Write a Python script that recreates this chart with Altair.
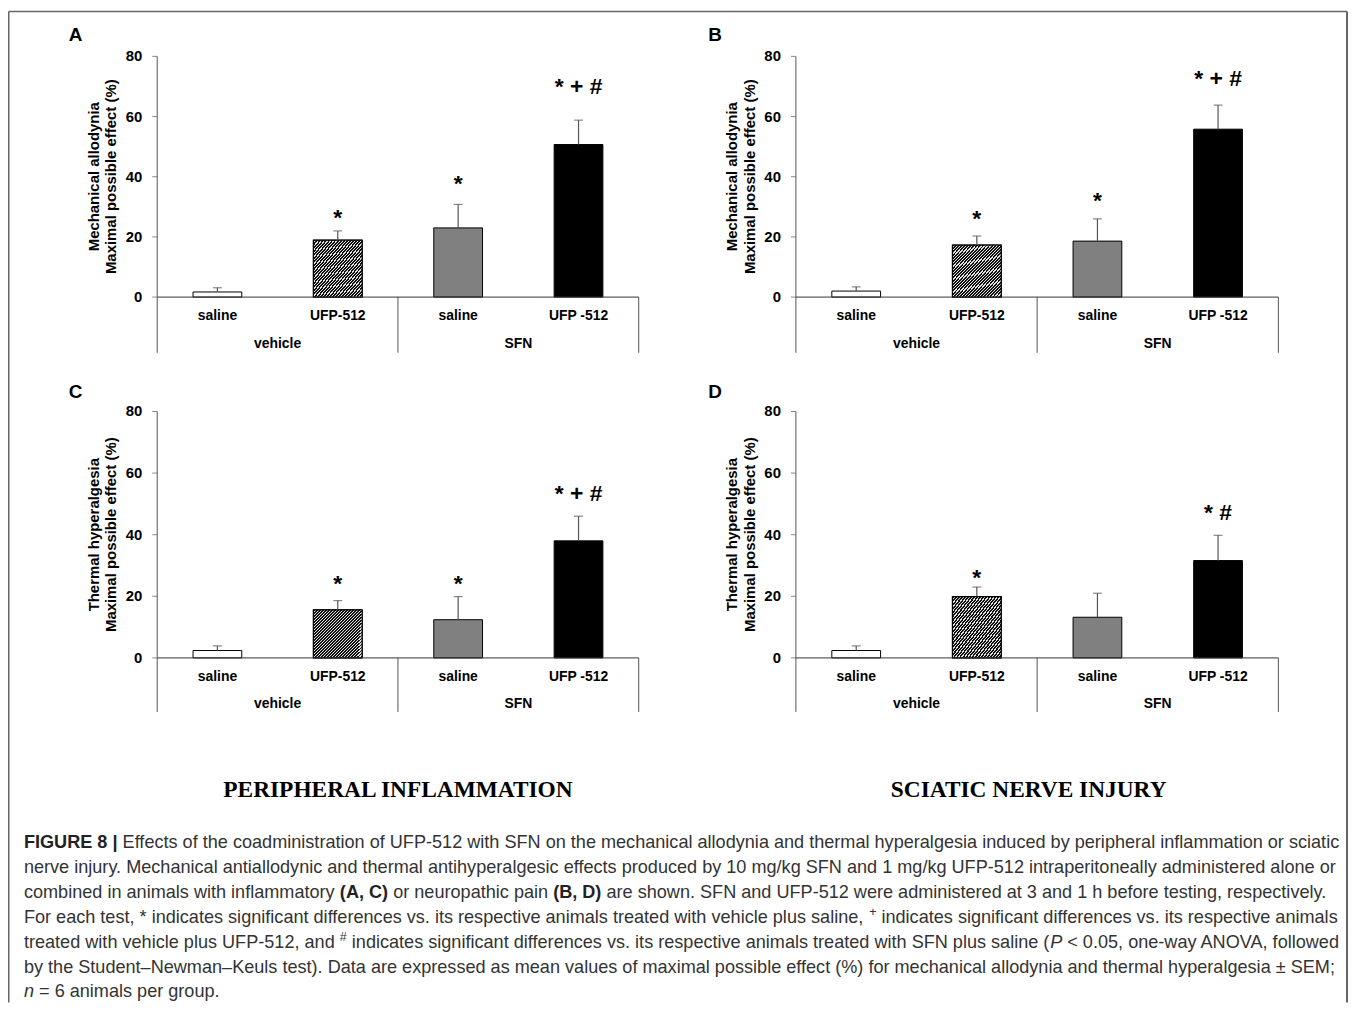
import altair as alt
import pandas as pd

# ---------------- data ----------------
groups = ["saline", "UFP-512", "saline", "UFP -512"]
positions = [0.5, 1.5, 2.5, 3.5]
fill_keys = ["vehicle+saline", "vehicle+UFP-512", "SFN+saline", "SFN+UFP-512"]
treatments = ["vehicle", "SFN"]
treatment_pos = [1, 3]
y_ticks = [0, 20, 40, 60, 80]

# mean maximal possible effect (%) and SEM
mech_infl_mean = [1.7, 18.9, 23.0, 50.7]
mech_infl_sem = [1.4, 3.1, 7.8, 8.1]
mech_neuro_mean = [2.0, 17.3, 18.6, 55.8]
mech_neuro_sem = [1.4, 3.0, 7.4, 8.0]
therm_infl_mean = [2.4, 15.6, 12.4, 38.0]
therm_infl_sem = [1.5, 3.0, 7.5, 8.0]
therm_neuro_mean = [2.4, 19.9, 13.2, 31.6]
therm_neuro_sem = [1.5, 3.1, 7.8, 8.2]

# significance marks and the height (axis units) of their text baseline
sig_A = ["", "*", "*", "* + #"]
sig_A_y = [None, 23.8, 35.1, 67.4]
sig_B = ["", "*", "*", "* + #"]
sig_B_y = [None, 23.5, 29.6, 70.1]
sig_C = ["", "*", "*", "* + #"]
sig_C_y = [None, 21.6, 21.6, 51.1]
sig_D = ["", "*", "", "* #"]
sig_D_y = [None, 23.7, None, 44.9]

FONT = "Liberation Sans"
W, H = 1348, 997
AX = "#555555"

# diagonal hatch as a hard-stop linear gradient
hatch_stops = []
n_str = 32
for i in range(n_str):
    a = i / n_str
    b = (i + 0.6) / n_str
    c = (i + 1) / n_str
    hatch_stops += [alt.GradientStop(offset=a, color="#111111"),
                    alt.GradientStop(offset=b, color="#111111"),
                    alt.GradientStop(offset=b, color="#e0e0e0"),
                    alt.GradientStop(offset=c, color="#e0e0e0")]
hatch = alt.LinearGradient(gradient="linear", stops=hatch_stops, x1=0, y1=0, x2=1, y2=1)


def panel(means, sems, sig, sig_y, title_text, xr, yr, title_x, lab_y, grp_y,
          sep_bottom, letter, letter_x, letter_y):
    df = pd.DataFrame({
        "pos": positions, "group": groups, "fill": fill_keys,
        "mean": means, "top": [m + s for m, s in zip(means, sems)],
        "sig": sig, "sig_y": sig_y,
    })
    xs = alt.Scale(domain=[0, 4], range=xr, nice=False, zero=False)
    ys = alt.Scale(domain=[0, 80], range=yr, nice=False)
    X = alt.X("pos:Q", scale=xs, axis=None)
    base = alt.Chart(df)

    bars = base.mark_bar(size=49, stroke="black", strokeWidth=1).encode(
        x=X,
        y=alt.Y("mean:Q", scale=ys, axis=None),
        fill=alt.Fill("fill:N", scale=alt.Scale(domain=fill_keys,
                      range=["white", "#444444", "#808080", "black"]), legend=None),
    )
    hatched = base.transform_filter(alt.datum.fill == "vehicle+UFP-512").mark_bar(
        size=49, stroke="black", strokeWidth=1.2, fill=hatch
    ).encode(x=X, y=alt.Y("mean:Q", scale=ys, axis=None))
    err = base.mark_rule(color=AX, strokeWidth=1.2).encode(
        x=X, y=alt.Y("mean:Q", scale=ys, axis=None), y2="top:Q")
    cap = base.mark_tick(orient="horizontal", size=9, thickness=1.2, color=AX).encode(
        x=X, y=alt.Y("top:Q", scale=ys, axis=None))
    stars = base.transform_filter(alt.datum.sig != "").mark_text(
        font=FONT, fontSize=23, fontWeight="bold", baseline="alphabetic", color="black"
    ).encode(x=X, y=alt.Y("sig_y:Q", scale=ys, axis=None), text="sig:N")
    cats = base.mark_text(font=FONT, fontSize=14, fontWeight="bold", baseline="middle",
                          color="black").encode(
        x=X, y=alt.value(lab_y), text="group:N")
    grp_df = pd.DataFrame({"pos": treatment_pos, "label": treatments})
    grps = alt.Chart(grp_df).mark_text(font=FONT, fontSize=14, fontWeight="bold",
                                       baseline="middle", color="black").encode(
        x=X, y=alt.value(grp_y), text="label:N")
    sep_df = pd.DataFrame({"pos": [0, 2, 4]})
    seps = alt.Chart(sep_df).mark_rule(color=AX, strokeWidth=1).encode(
        x=X, y=alt.value(yr[0]), y2=alt.value(sep_bottom))
    base_df = pd.DataFrame({"x0": [0], "x1": [4], "y0": [0], "y1": [80]})
    baseline = alt.Chart(base_df).mark_rule(color="#333333", strokeWidth=1).encode(
        x=alt.X("x0:Q", scale=xs, axis=None), x2="x1:Q",
        y=alt.Y("y0:Q", scale=ys, axis=None))
    # y axis drawn from its own small table
    ydomain = alt.Chart(base_df).mark_rule(color=AX, strokeWidth=1).encode(
        x=alt.X("x0:Q", scale=xs, axis=None),
        y=alt.Y("y0:Q", scale=ys, axis=None), y2="y1:Q")
    tick_df = pd.DataFrame({"x0": [0] * len(y_ticks), "v": y_ticks,
                            "lab": [str(v) for v in y_ticks]})
    yticks = alt.Chart(tick_df).mark_tick(orient="horizontal", size=5, thickness=1,
                                          color=AX, xOffset=-2.5).encode(
        x=alt.X("x0:Q", scale=xs, axis=None), y=alt.Y("v:Q", scale=ys, axis=None))
    ylabels = alt.Chart(tick_df).mark_text(font=FONT, fontSize=15, fontWeight="bold",
                                           align="right", baseline="middle", dx=-15,
                                           color="black").encode(
        x=alt.X("x0:Q", scale=xs, axis=None), y=alt.Y("v:Q", scale=ys, axis=None),
        text="lab:N")
    ytitle = alt.Chart(pd.DataFrame({"t": [title_text]})).mark_text(
        font=FONT, fontSize=15, fontWeight="bold", angle=270, lineBreak="\n",
        lineHeight=18, align="center", baseline="middle", color="black").encode(
        x=alt.value(title_x), y=alt.value((yr[0] + yr[1]) / 2), text="t:N")
    let_df = pd.DataFrame({"t": [letter]})
    let = alt.Chart(let_df).mark_text(font=FONT, fontSize=19, fontWeight="bold",
                                      align="left", baseline="alphabetic",
                                      color="black").encode(
        x=alt.value(letter_x), y=alt.value(letter_y), text="t:N")
    return alt.layer(bars, hatched, seps, baseline, ydomain, yticks, ylabels, ytitle,
                     err, cap, stars, cats, grps, let)


mech_title = "Mechanical allodynia\nMaximal possible effect (%)"
therm_title = "Thermal hyperalgesia\nMaximal possible effect (%)"

pA = panel(mech_infl_mean, mech_infl_sem, sig_A, sig_A_y, mech_title,
           [145, 639], [288, 46], 86, 307, 335, 344, "A", 61, 31)
pB = panel(mech_neuro_mean, mech_neuro_sem, sig_B, sig_B_y, mech_title,
           [787, 1282], [288, 46], 728, 307, 335, 344, "B", 704, 31)
pC = panel(therm_infl_mean, therm_infl_sem, sig_C, sig_C_y, therm_title,
           [145, 639], [650.7, 403], 86, 670, 697, 705, "C", 61, 389)
pD = panel(therm_neuro_mean, therm_neuro_sem, sig_D, sig_D_y, therm_title,
           [787, 1282], [650.7, 403], 728, 670, 697, 705, "D", 704, 389)

one = pd.DataFrame({"k": [0]})

# figure frame (left, top, right)
frame = [
    alt.Chart(one).mark_rule(color="#666666", strokeWidth=1.5).encode(
        x=alt.value(0.75), y=alt.value(1), y2=alt.value(H)),
    alt.Chart(one).mark_rule(color="#666666", strokeWidth=1.5).encode(
        x=alt.value(0.75), x2=alt.value(1346), y=alt.value(1)),
    alt.Chart(one).mark_rule(color="#666666", strokeWidth=2).encode(
        x=alt.value(1346), y=alt.value(1), y2=alt.value(H)),
]

# column headings
headings = [
    alt.Chart(pd.DataFrame({"t": ["PERIPHERAL INFLAMMATION"]})).mark_text(
        font="Liberation Serif", fontSize=23.5, fontWeight="bold", align="center",
        baseline="middle", color="black").encode(
        x=alt.value(392), y=alt.value(784), text="t:N"),
    alt.Chart(pd.DataFrame({"t": ["SCIATIC NERVE INJURY"]})).mark_text(
        font="Liberation Serif", fontSize=23.5, fontWeight="bold", align="center",
        baseline="middle", color="black").encode(
        x=alt.value(1026), y=alt.value(784), text="t:N"),
]

# ---- caption: segments placed one after another using Arial-like advance widths
REG = {' ': 278, '!': 278, '#': 556, '%': 889, '(': 333, ')': 333, '*': 389, '+': 584,
       ',': 278, '-': 333, '.': 278, '/': 278, ':': 278, ';': 278, '<': 584, '=': 584,
       '\u00b1': 584, '\u2013': 556, '|': 260,
       'A': 667, 'B': 667, 'C': 722, 'D': 722, 'E': 667, 'F': 611, 'G': 778, 'H': 722,
       'I': 278, 'J': 500, 'K': 667, 'L': 556, 'M': 833, 'N': 722, 'O': 778, 'P': 667,
       'Q': 778, 'R': 722, 'S': 667, 'T': 611, 'U': 722, 'V': 667, 'W': 944, 'X': 667,
       'Y': 667, 'Z': 611,
       'a': 556, 'b': 556, 'c': 500, 'd': 556, 'e': 556, 'f': 278, 'g': 556, 'h': 556,
       'i': 222, 'j': 222, 'k': 500, 'l': 222, 'm': 833, 'n': 556, 'o': 556, 'p': 556,
       'q': 556, 'r': 333, 's': 500, 't': 278, 'u': 556, 'v': 500, 'w': 722, 'x': 500,
       'y': 500, 'z': 500}
BOLD = {' ': 278, '(': 333, ')': 333, ',': 278, '|': 280, 'A': 722, 'B': 722, 'C': 722,
        'D': 722, 'E': 667, 'F': 611, 'G': 778, 'I': 278, 'R': 722, 'U': 722}


def tw(s, size, bold=False):
    tbl = BOLD if bold else REG
    return sum(tbl.get(ch, REG.get(ch, 556)) for ch in s) * size / 1000.0


CAP_FONT = "Liberation Sans"
CS = 18.2
caption_lines = [
    [("FIGURE 8 |", "bold", "normal", False),
     ("Effects of the coadministration of UFP-512 with SFN on the mechanical allodynia and thermal hyperalgesia induced by peripheral inflammation or sciatic", "normal", "normal", False)],
    [("nerve injury. Mechanical antiallodynic and thermal antihyperalgesic effects produced by 10 mg/kg SFN and 1 mg/kg UFP-512 intraperitoneally administered alone or", "normal", "normal", False)],
    [("combined in animals with inflammatory", "normal", "normal", False),
     ("(A, C)", "bold", "normal", False),
     ("or neuropathic pain", "normal", "normal", False),
     ("(B, D)", "bold", "normal", False),
     ("are shown. SFN and UFP-512 were administered at 3 and 1 h before testing, respectively.", "normal", "normal", False)],
    [("For each test, * indicates significant differences vs. its respective animals treated with vehicle plus saline,", "normal", "normal", False),
     ("+", "normal", "normal", True),
     ("indicates significant differences vs. its respective animals", "normal", "normal", False)],
    [("treated with vehicle plus UFP-512, and", "normal", "normal", False),
     ("#", "normal", "normal", True),
     ("indicates significant differences vs. its respective animals treated with SFN plus saline (", "normal", "normal", False),
     ("P", "normal", "italic", False),
     ("< 0.05, one-way ANOVA, followed", "normal", "normal", False)],
    [("by the Student\u2013Newman\u2013Keuls test). Data are expressed as mean values of maximal possible effect (%) for mechanical allodynia and thermal hyperalgesia \u00b1 SEM;", "normal", "normal", False)],
    [("n", "normal", "italic", False),
     ("= 6 animals per group.", "normal", "normal", False)],
]
caption_y = [837, 862, 887, 912, 937, 962, 987]

caption = []
for ly, segs in zip(caption_y, caption_lines):
    x = 16.0
    for j, (txt, wt, st, sup) in enumerate(segs):
        fs = 12.5 if sup else CS
        if j > 0:
            prev = segs[j - 1][0]
            x += 0 if prev.endswith("(") else tw(" ", CS)
        caption.append(
            alt.Chart(pd.DataFrame({"t": [txt]})).mark_text(
                font=CAP_FONT, fontSize=fs, fontWeight=wt, fontStyle=st,
                align="left", baseline="middle",
                color="#222222" if wt == "bold" else "#333333"
            ).encode(x=alt.value(round(x, 1)), y=alt.value(ly - (6 if sup else 0)),
                     text="t:N")
        )
        x += tw(txt, fs, wt == "bold")

chart = alt.layer(pA, pB, pC, pD, *frame, *headings, *caption).resolve_scale(
    x="independent", y="independent"
).properties(
    width=W, height=H, autosize=alt.AutoSizeParams(type="none"), padding=0
).configure_view(stroke=None)

chart.save("out.html", embed_options={"renderer": "svg", "actions": False})
